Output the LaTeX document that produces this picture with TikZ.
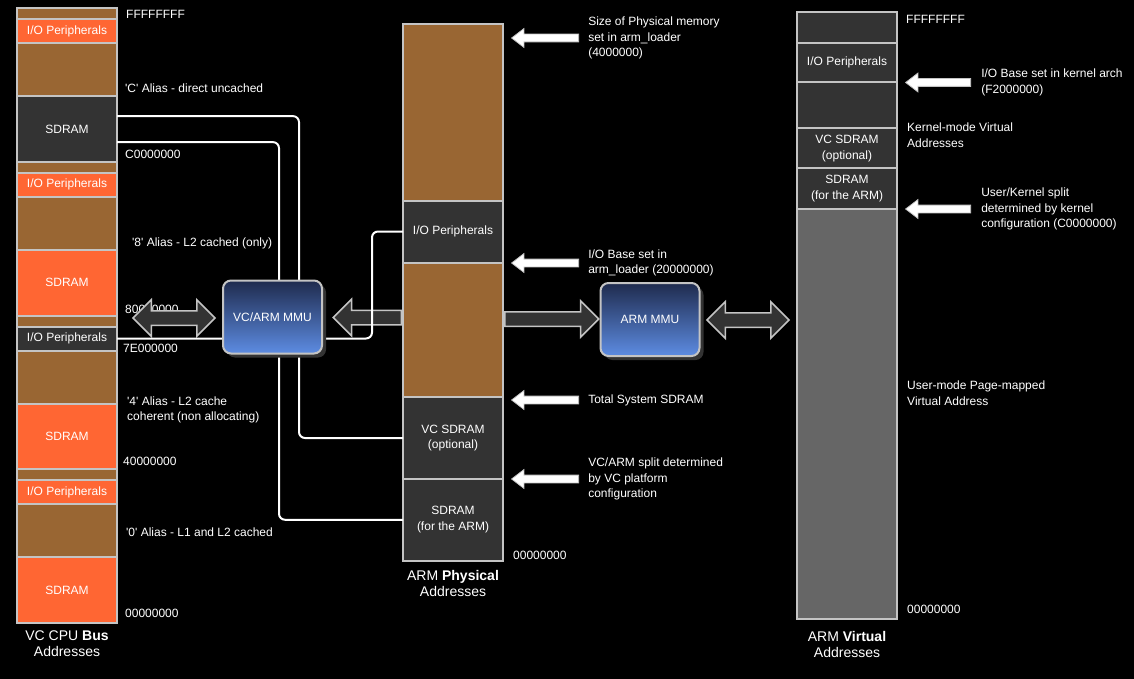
\documentclass[tikz,border=0pt]{standalone}
\usepackage{fontspec}
\setmainfont{Liberation Sans}
\usetikzlibrary{positioning,shapes.arrows,shadows}
\definecolor{brn}{HTML}{996633}
\definecolor{org}{HTML}{FF6633}
\definecolor{drk}{HTML}{333333}
\definecolor{usr}{HTML}{666666}
\definecolor{rim}{HTML}{C4C4C4}
\definecolor{mmutop}{HTML}{1F2B4E}
\definecolor{mmubot}{HTML}{5D8CE2}
\begin{document}
\begin{tikzpicture}[
		x=1pt, y=-1pt,
		every node/.style={text=white, font=\fontsize{12}{15.5}\selectfont},
		seg/.style={draw=rim, line width=2pt, outer sep=0pt, inner sep=0pt, minimum width=100pt, align=center},
		lbl/.style={anchor=west, inner sep=0pt, align=left},
		capt/.style={inner sep=0pt, align=center, font=\fontsize{14}{16}\selectfont},
		ptr/.style={single arrow, draw=rim, fill=white, line width=.8pt, inner sep=0pt, inner ysep=3.5pt, minimum width=0pt, single arrow head extend=5.5pt, single arrow tip angle=75, shape border rotate=180, anchor=tip},
		blk/.style={draw=rim, fill=drk, line width=1.5pt, inner sep=0pt, inner ysep=6.5pt, minimum width=0pt},
		mmu/.style={draw=rim, line width=2pt, rounded corners=8pt, top color=mmutop, bottom color=mmubot, minimum width=99pt, minimum height=73pt, drop shadow={shadow xshift=4pt, shadow yshift=-4pt, fill=drk, opacity=1}},
		wire/.style={draw=white, line width=2pt, rounded corners=6pt}
	]
	\useasboundingbox[fill=black] (0,0) rectangle (1134,679);

	% VC CPU bus addresses
	\node[seg, fill=brn, minimum height=11pt, anchor=north west] (b1) at (17,8) {};
	\node[seg, fill=org, minimum height=24pt, below=0pt of b1] (bio1) {I/O Peripherals};
	\node[seg, fill=brn, minimum height=53pt, below=0pt of bio1] (bc1) {};
	\node[seg, fill=drk, minimum height=65.75pt, below=0pt of bc1] (bsd1) {SDRAM};
	\node[seg, fill=brn, minimum height=11pt, below=0pt of bsd1] (b2) {};
	\node[seg, fill=org, minimum height=24pt, below=0pt of b2] (bio2) {I/O Peripherals};
	\node[seg, fill=brn, minimum height=53pt, below=0pt of bio2] (bc2) {};
	\node[seg, fill=org, minimum height=65.75pt, below=0pt of bc2] (bsd2) {SDRAM};
	\node[seg, fill=brn, minimum height=11pt, below=0pt of bsd2] (b3) {};
	\node[seg, fill=drk, minimum height=24pt, below=0pt of b3] (bio3) {I/O Peripherals};
	\node[seg, fill=brn, minimum height=53pt, below=0pt of bio3] (bc3) {};
	\node[seg, fill=org, minimum height=65.75pt, below=0pt of bc3] (bsd3) {SDRAM};
	\node[seg, fill=brn, minimum height=11pt, below=0pt of bsd3] (b4) {};
	\node[seg, fill=org, minimum height=24pt, below=0pt of b4] (bio4) {I/O Peripherals};
	\node[seg, fill=brn, minimum height=53pt, below=0pt of bio4] (bc4) {};
	\node[seg, fill=org, minimum height=65.75pt, below=0pt of bc4] (bsd4) {SDRAM};
	\node[capt, below=8pt of bsd4] (capbus) {VC CPU \textbf{Bus}\\Addresses};

	\node[lbl] (hbF) at (126,14.5) {FFFFFFFF};
	\node[lbl] (alC) at (125,88) {\textquotesingle C\textquotesingle\ Alias - direct uncached};
	\node[lbl] (hbC) at (125,154) {C0000000};
	\node[lbl] (al8) at (132,243) {\textquotesingle 8\textquotesingle\ Alias - L2 cached (only)};
	\node[lbl] (hb8) at (125,309) {80000000};
	\node[lbl] (hb7) at (123,348.5) {7E000000};
	\node[lbl] (al4) at (127,410) {\textquotesingle 4\textquotesingle\ Alias - L2 cache\\coherent (non allocating)};
	\node[lbl] (hb4) at (123,461.5) {40000000};
	\node[lbl] (al0) at (126,532) {\textquotesingle 0\textquotesingle\ Alias - L1 and L2 cached};
	\node[lbl] (hb0) at (125,613.5) {00000000};

	% ARM physical addresses
	\node[seg, fill=brn, minimum height=176.5pt, anchor=north west] (p1) at (403,24) {};
	\node[seg, fill=drk, minimum height=62pt, below=0pt of p1] (pio) {I/O Peripherals};
	\node[seg, fill=brn, minimum height=134.5pt, below=0pt of pio] (p2) {};
	\node[seg, fill=drk, minimum height=82pt, below=0pt of p2] (pvc) {VC SDRAM\\(optional)};
	\node[seg, fill=drk, minimum height=81.5pt, below=0pt of pvc] (parm) {SDRAM\\(for the ARM)};
	\node[capt, below=10pt of parm] (capphys) {ARM \textbf{Physical}\\Addresses};
	\node[lbl] (hp0) at (513,555) {00000000};

	\node[ptr, minimum height=67pt] (pa1) at (511,38) {};
	\node[lbl, right=9pt of pa1] (na1) {Size of Physical memory\\set in arm\_loader\\(4000000)};
	\node[ptr, minimum height=67pt] (pa2) at (511,263) {};
	\node[lbl, right=9pt of pa2] (na2) {I/O Base set in\\arm\_loader (20000000)};
	\node[ptr, minimum height=67pt] (pa3) at (511,400) {};
	\node[lbl, right=9pt of pa3] (na3) {Total System SDRAM};
	\node[ptr, minimum height=67pt] (pa4) at (511,479) {};
	\node[lbl, right=9pt of pa4] (na4) {VC/ARM split determined\\by VC platform\\configuration};

	% ARM virtual addresses
	\node[seg, fill=drk, minimum height=31pt, anchor=north west] (v1) at (797,12) {};
	\node[seg, fill=drk, minimum height=39.5pt, below=0pt of v1] (vio) {I/O Peripherals};
	\node[seg, fill=drk, minimum height=46pt, below=0pt of vio] (v2) {};
	\node[seg, fill=drk, minimum height=40pt, below=0pt of v2] (vvc) {VC SDRAM\\(optional)};
	\node[seg, fill=drk, minimum height=40pt, below=0pt of vvc] (varm) {SDRAM\\(for the ARM)};
	\node[seg, fill=usr, minimum height=410.5pt, below=0pt of varm] (vusr) {};
	\node[capt, below=12pt of vusr] (capvirt) {ARM \textbf{Virtual}\\Addresses};

	\node[lbl] (hvF) at (906,19.5) {FFFFFFFF};
	\node[lbl] (nkern) at (907,135) {Kernel-mode Virtual\\Addresses};
	\node[lbl] (nuser) at (907,393) {User-mode Page-mapped\\Virtual Address};
	\node[lbl] (hv0) at (907,609) {00000000};

	\node[ptr, minimum height=65pt] (pb1) at (905,82.5) {};
	\node[lbl, right=10pt of pb1] (nb1) {I/O Base set in kernel arch\\(F2000000)};
	\node[ptr, minimum height=65pt] (pb2) at (905,209) {};
	\node[lbl, right=10pt of pb2] (nb2) {User/Kernel split\\determined by kernel\\configuration (C0000000)};

	% block arrows
	\node[blk, double arrow, double arrow head extend=11pt, minimum height=82pt] (dbus) at (174,318) {};
	\node[blk, single arrow, single arrow head extend=11pt, minimum height=68pt, shape border rotate=180, anchor=tail] (aphys) at (402,317.5) {};
	\node[blk, single arrow, single arrow head extend=11pt, minimum height=94pt, anchor=tail] (aarm) at (504,319) {};
	\node[blk, double arrow, double arrow head extend=11pt, minimum height=82pt] (dvirt) at (748,320) {};

	% wires
	\draw[wire] ([yshift=12.75pt]bsd1.east) -| ([xshift=-104pt]pvc.west) -- (pvc.west);
	\draw[wire] ([yshift=-13.25pt]bsd1.east) -| ([xshift=-124pt]parm.west) -- (parm.west);
	\draw[wire] (bio3.east) -| ([xshift=-31pt]pio.west) -- (pio.west);

	\node[mmu] (vcmmu) at (272.5,317) {VC/ARM MMU};
	\node[mmu] (armmmu) at (650,319.5) {ARM MMU};
\end{tikzpicture}
\end{document}
